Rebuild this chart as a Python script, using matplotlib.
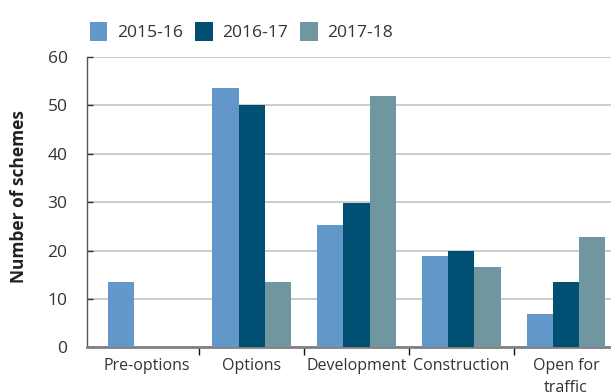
import matplotlib
matplotlib.use("Agg")
import matplotlib.pyplot as plt
import numpy as np

categories = ["Pre-options", "Options", "Development", "Construction", "Open for\ntraffic"]
series_names = ["2015-16", "2016-17", "2017-18"]
values_2015_16 = [13.4, 53.5, 25.2, 18.8, 6.8]
values_2016_17 = [0, 50, 29.8, 19.9, 13.4]
values_2017_18 = [0, 13.4, 51.9, 16.5, 22.8]
y_ticks = [0, 10, 20, 30, 40, 50, 60]

colors = ["#6297ca", "#024f74", "#7097a0"]
font = ["Open Sans", "DejaVu Sans"]
plt.rcParams["font.family"] = font

fig = plt.figure(figsize=(6.11, 3.92), dpi=100)
ax = fig.add_axes([0.1424, 0.114, 1 - 0.1424, 0.8546 - 0.114])

x = np.arange(len(categories))
width = 0.25
all_series = [values_2015_16, values_2016_17, values_2017_18]
for i, (name, vals, col) in enumerate(zip(series_names, all_series, colors)):
    ax.bar(x + (i - 1) * width, vals, width, color=col, label=name, zorder=3)

ax.set_xlim(-0.573, 4.43)
ax.set_ylim(0, 60)
ax.set_yticks(y_ticks)
ax.yaxis.grid(True, color="#c4c4c4", linewidth=1.2, zorder=0)
ax.set_axisbelow(True)

for s in ["top", "right"]:
    ax.spines[s].set_visible(False)
ax.spines["left"].set_color("#555555")
ax.spines["left"].set_linewidth(1.0)
ax.spines["bottom"].set_color("#808080")
ax.spines["bottom"].set_linewidth(2.0)

ax.tick_params(axis="y", direction="in", length=4, width=1, color="#333333",
               labelsize=12.5, labelcolor="#333333", pad=14)
# Category ticks sit on the group boundaries; labels are centred under groups
ax.set_xticks(x[:-1] + 0.5)
ax.set_xticklabels([])
ax.tick_params(axis="x", which="major", direction="out", length=6, width=1, color="#111111")
ax.set_xticks(x, minor=True)
ax.set_xticklabels(categories, minor=True, fontsize=11.5, color="#333333", linespacing=1.5)
ax.tick_params(axis="x", which="minor", length=0, pad=8)

ax.set_ylabel("Number of schemes", fontsize=12.5, fontweight="bold", color="#222222")
ax.yaxis.set_label_coords(-0.1126, 0.52)

leg = fig.legend(loc="upper left", bbox_to_anchor=(0.121, 0.985), ncol=3, frameon=False,
                 fontsize=12.6, handlelength=1.0, handleheight=1.3, handletextpad=0.55,
                 columnspacing=0.7, labelcolor="#333333")

fig.savefig("out.png", dpi=100)
